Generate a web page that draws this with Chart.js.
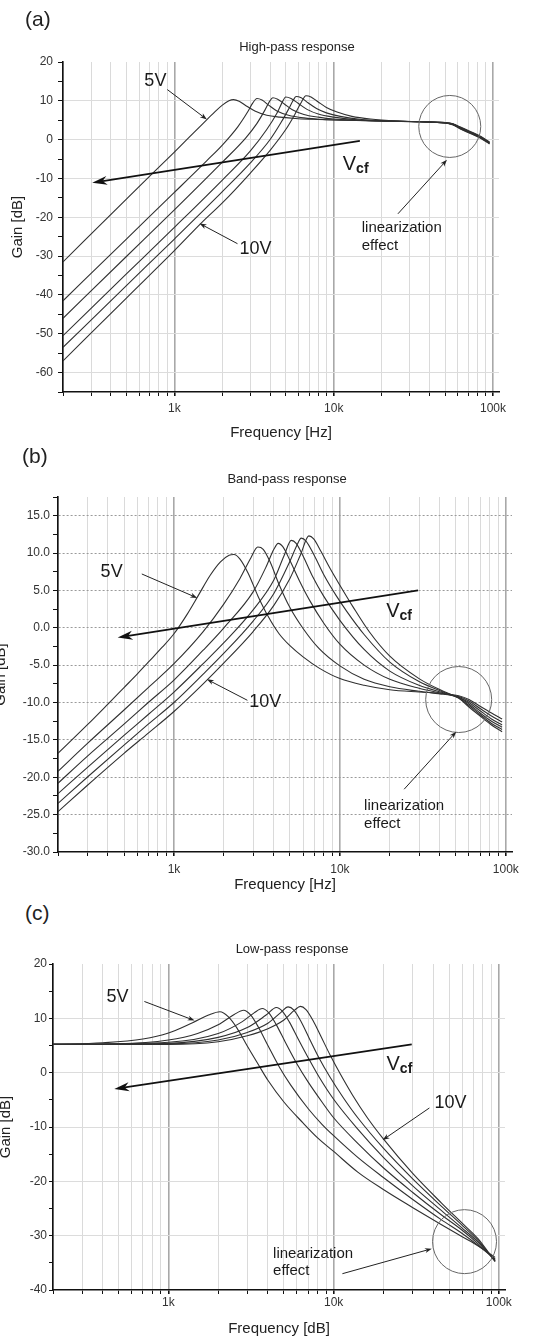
<!DOCTYPE html>
<html>
<head>
<meta charset="utf-8">
<script src="https://cdn.jsdelivr.net/npm/chart.js@4.4.1/dist/chart.umd.min.js"></script>
<style>
  body { margin: 0; background: #fff; }
  #page { position: relative; width: 540px; height: 1340px; overflow: hidden; background: #fff;
          font-family: "Liberation Sans", Arial, sans-serif; color: #222; }
  canvas { position: absolute; }
  .txt { position: absolute; white-space: nowrap; line-height: 1; transform: translate(-50%, -50%); }
  .panel { font-size: 21px; transform: translateY(-50%); }
  .ttl { font-size: 13px; }
</style>
</head>
<body>
<div id="page">
  <canvas id="hp" width="540" height="442" style="left:0;top:0"></canvas>
  <canvas id="bp" width="548" height="434" style="left:-8px;top:460px"></canvas>
  <canvas id="lp" width="543" height="408" style="left:-3px;top:930px"></canvas>

  <div class="txt panel" style="left:25px;top:18px">(a)</div>
  <div class="txt ttl" style="left:297px;top:46px">High-pass response</div>
  <div class="txt panel" style="left:22px;top:455px">(b)</div>
  <div class="txt ttl" style="left:287px;top:478px">Band-pass response</div>
  <div class="txt panel" style="left:25px;top:912px">(c)</div>
  <div class="txt ttl" style="left:292px;top:948px">Low-pass response</div>
</div>
<script>
// frequency axis (Hz)
const freqTicks = [200, 300, 400, 500, 600, 700, 800, 900,
  1000, 2000, 3000, 4000, 5000, 6000, 7000, 8000, 9000,
  10000, 20000, 30000, 40000, 50000, 60000, 70000, 80000, 90000, 100000];
const freqLabels = { 1000: '1k', 10000: '10k', 100000: '100k' };
const seriesNames = ['5V', '6V', '7V', '8V', '9V', '10V'];

// (a) high-pass, [Hz, dB]
const hp5V = [[200,-31.5],[500,-15.3],[1000,-3.2],[1500,4.0],[1800,7.2],[2000,8.9],[2200,10.0],[2350,10.3],[2550,9.9],[2800,8.8],[3200,7.4],[3800,6.3],[4600,5.8],[6000,5.4],[8000,5.2],[12000,5.0],[20000,4.8],[35000,4.6],[50000,4.4],[56000,4.1],[62000,3.3],[72000,2.1],[84000,0.8],[95000,-0.6]];
const hp6V = [[200,-41.5],[500,-25.6],[1000,-13.6],[1600,-5.4],[2000,-1.4],[2500,3.3],[2900,7.3],[3100,9.4],[3300,10.6],[3550,10.2],[3900,8.9],[4400,7.4],[5200,6.3],[6500,5.6],[8500,5.2],[12000,5.0],[20000,4.8],[35000,4.6],[50000,4.4],[56000,4.0],[62000,3.2],[72000,2.0],[84000,0.7],[95000,-0.7]];
const hp7V = [[200,-46],[500,-30.1],[1000,-18.1],[2000,-5.8],[2800,0.4],[3300,4.2],[3700,7.6],[3950,9.8],[4150,10.8],[4450,10.4],[4900,9.2],[5500,7.7],[6500,6.5],[8000,5.8],[10000,5.3],[14000,5.0],[20000,4.8],[35000,4.6],[50000,4.3],[56000,4.0],[62000,3.1],[72000,1.9],[84000,0.6],[95000,-0.8]];
const hp8V = [[200,-50.5],[500,-34.6],[1000,-22.6],[2000,-10.4],[3000,-2.9],[3800,2.6],[4400,6.8],[4750,9.6],[5000,11.0],[5400,10.6],[6000,9.3],[6800,7.8],[8000,6.6],[10000,5.8],[14000,5.1],[20000,4.8],[35000,4.6],[50000,4.3],[56000,3.9],[62000,3.0],[72000,1.8],[84000,0.5],[95000,-0.9]];
const hp9V = [[200,-53.5],[500,-37.6],[1000,-25.6],[2000,-13.4],[3000,-6.0],[4000,0.1],[4700,4.6],[5200,7.8],[5550,10.0],[5800,11.1],[6250,10.8],[6900,9.5],[7800,8.0],[9000,6.9],[11000,6.0],[15000,5.2],[20000,4.9],[35000,4.6],[50000,4.3],[56000,3.9],[62000,2.9],[72000,1.7],[84000,0.4],[95000,-1.0]];
const hp10V = [[200,-57],[500,-40.8],[1000,-28.6],[1500,-21.2],[2000,-16.3],[3000,-8.6],[4000,-2.7],[5000,2.6],[5700,6.5],[6200,9.3],[6700,11.3],[7200,11.0],[8000,9.7],[9000,8.3],[10500,7.1],[13000,6.0],[17000,5.3],[25000,4.8],[35000,4.6],[50000,4.3],[56000,3.8],[62000,2.8],[72000,1.6],[84000,0.3],[95000,-1.1]];

// (b) band-pass
const bp5V = [[200,-16.8],[300,-13.0],[400,-10.2],[500,-8.0],[600,-6.2],[700,-4.6],[850,-2.6],[1000,-0.8],[1200,1.8],[1400,4.3],[1650,7.0],[1900,8.8],[2150,9.7],[2300,9.8],[2500,9.2],[2800,7.3],[3200,4.3],[3700,1.5],[4300,-0.8],[5000,-2.4],[6000,-3.9],[7500,-5.4],[10000,-6.8],[14000,-7.7],[20000,-8.3],[30000,-8.6],[42000,-8.8],[52000,-9.1],[60000,-9.6],[70000,-10.5],[82000,-11.4],[95000,-12.2]];
const bp6V = [[200,-19.2],[300,-15.5],[500,-11.0],[700,-8.0],[1000,-4.8],[1500,-0.5],[2000,3.2],[2500,6.6],[2900,9.3],[3200,10.8],[3450,10.5],[3800,8.8],[4300,5.8],[5000,2.7],[6000,-0.1],[7500,-2.8],[10000,-5.1],[14000,-6.9],[20000,-7.9],[30000,-8.5],[42000,-8.9],[52000,-9.2],[60000,-9.8],[70000,-10.8],[82000,-11.8],[95000,-12.6]];
const bp7V = [[200,-20.8],[300,-17.2],[500,-12.9],[700,-10.0],[1000,-7.0],[1500,-3.0],[2000,0.0],[3000,4.8],[3600,8.2],[4000,10.5],[4250,11.3],[4550,10.8],[5000,9.0],[5700,6.3],[6600,3.6],[8000,0.6],[10000,-2.2],[14000,-5.0],[20000,-6.9],[30000,-8.1],[42000,-8.8],[52000,-9.3],[60000,-10.0],[70000,-11.1],[82000,-12.2],[95000,-13.0]];
const bp8V = [[200,-22.2],[300,-18.7],[500,-14.4],[700,-11.6],[1000,-8.6],[1500,-4.8],[2000,-2.0],[3000,2.4],[4000,6.4],[4600,9.6],[5100,11.7],[5450,11.3],[6000,9.6],[6800,7.0],[8000,4.2],[10000,1.0],[14000,-2.9],[20000,-5.8],[30000,-7.7],[42000,-8.7],[52000,-9.3],[60000,-10.2],[70000,-11.4],[82000,-12.5],[95000,-13.3]];
const bp9V = [[200,-23.5],[300,-20.0],[500,-15.7],[700,-12.9],[1000,-10.0],[1500,-6.2],[2000,-3.4],[3000,0.9],[4000,4.6],[5000,8.9],[5500,11.0],[5850,12.0],[6250,11.6],[7000,9.7],[8000,7.1],[9500,4.3],[11000,2.2],[14000,-0.9],[20000,-4.6],[30000,-7.2],[42000,-8.6],[52000,-9.4],[60000,-10.4],[70000,-11.6],[82000,-12.8],[95000,-13.6]];
const bp10V = [[200,-24.6],[300,-21.1],[500,-16.8],[700,-14.1],[1000,-11.2],[1500,-7.5],[2000,-4.7],[3000,-0.5],[4000,3.0],[5000,6.6],[5800,9.8],[6500,12.3],[6950,11.9],[7700,10.2],[8700,8.0],[10000,5.7],[12000,2.8],[15000,-0.5],[20000,-3.8],[30000,-6.8],[42000,-8.5],[52000,-9.4],[60000,-10.6],[70000,-11.8],[82000,-13.0],[95000,-13.9]];

// (c) low-pass
const lp5V = [[200,5.2],[400,5.5],[700,6.2],[1000,7.3],[1400,9.2],[1750,10.6],[2050,11.2],[2300,10.3],[2600,8.2],[3000,4.9],[3500,1.5],[4000,-1.4],[5000,-5.4],[6500,-9.2],[8000,-12.0],[10000,-14.5],[14000,-18.3],[20000,-21.5],[30000,-24.8],[45000,-28.0],[60000,-30.2],[75000,-31.9],[95000,-34.0]];
const lp6V = [[200,5.2],[500,5.3],[1000,6.0],[1500,7.2],[2000,8.8],[2500,10.7],[2850,11.5],[3150,10.6],[3500,8.4],[4000,5.0],[4700,1.0],[5500,-2.3],[7000,-6.6],[8500,-9.5],[10000,-11.6],[14000,-15.6],[20000,-19.3],[30000,-23.3],[45000,-27.1],[60000,-29.6],[75000,-31.8],[95000,-34.3]];
const lp7V = [[200,5.2],[1000,5.6],[2000,7.2],[2800,9.4],[3300,11.0],[3700,11.8],[4050,11.0],[4500,8.8],[5100,5.6],[6000,1.6],[7000,-1.7],[8500,-5.4],[10000,-8.3],[14000,-13.0],[20000,-17.5],[30000,-22.0],[45000,-26.2],[60000,-29.0],[75000,-31.5],[95000,-34.5]];
const lp8V = [[200,5.2],[1000,5.4],[2000,6.5],[3000,8.3],[3900,10.6],[4500,12.0],[4900,11.3],[5400,9.3],[6100,6.2],[7000,2.8],[8200,-0.9],[10000,-4.9],[14000,-10.4],[20000,-15.6],[30000,-20.8],[45000,-25.4],[60000,-28.6],[75000,-31.2],[95000,-34.6]];
const lp9V = [[200,5.2],[1000,5.3],[2000,6.0],[3000,7.4],[4000,9.1],[4800,11.1],[5300,12.1],[5750,11.5],[6300,9.6],[7100,6.4],[8100,2.9],[9500,-0.8],[11500,-4.7],[14000,-8.3],[20000,-13.9],[30000,-19.5],[45000,-24.6],[60000,-28.1],[75000,-30.9],[95000,-34.7]];
const lp10V = [[200,5.2],[1000,5.2],[2000,5.7],[3000,6.8],[4000,8.1],[5000,9.7],[5800,11.5],[6300,12.2],[6800,11.6],[7500,9.6],[8400,6.6],[9500,3.3],[11000,-0.3],[13000,-4.1],[16000,-8.3],[20000,-12.2],[30000,-18.5],[45000,-24.0],[60000,-27.7],[75000,-30.6],[95000,-34.8]];

// annotations, placed in data coordinates
const hpNotes = {
  labels: [{ text: '5V', at: [760, 15.2] }, { text: '10V', at: [3230, -28.1] }],
  notes: [{ text: 'linearization', at: [15000, -22.7] }, { text: 'effect', at: [15000, -27.3] }],
  arrows: [{ from: [903, 12.9], to: [1600, 5.2] }, { from: [2490, -26.8], to: [1440, -21.6] }, { from: [25300, -19.1], to: [51400, -5.2] }],
  vcf: { from: [14600, -0.3], to: [305, -11.1], label: [11400, -7.7] },
  circle: { at: [53500, 3.4], r: 31 }
};
const bpNotes = {
  labels: [{ text: '5V', at: [421, 7.5] }, { text: '10V', at: [3550, -10] }],
  notes: [{ text: 'linearization', at: [14000, -23.8] }, { text: 'effect', at: [14000, -26.2] }],
  arrows: [{ from: [640, 7.2], to: [1380, 4.0] }, { from: [2770, -9.7], to: [1580, -6.9] }, { from: [24400, -21.6], to: [50300, -13.9] }],
  vcf: { from: [29600, 5.0], to: [458, -1.3], label: [19000, 1.45] },
  circle: { at: [52000, -9.6], r: 33 }
};
const lpNotes = {
  labels: [{ text: '5V', at: [491, 13.9] }, { text: '10V', at: [51000, -5.6] }],
  notes: [{ text: 'linearization', at: [4300, -33.3] }, { text: 'effect', at: [4300, -36.5] }],
  arrows: [{ from: [715, 13.1], to: [1440, 9.6] }, { from: [38000, -6.5], to: [19800, -12.4] }, { from: [11300, -37], to: [39300, -32.4] }],
  vcf: { from: [29700, 5.2], to: [470, -3.0], label: [20900, 0.4] },
  circle: { at: [62000, -31.1], r: 32 }
};

const FONT = '"Liberation Sans", Arial, sans-serif';
const CURVE = '#303030';

const drawArrow = (ctx, a, b, len, wid, lw) => {
  const ang = Math.atan2(b[1] - a[1], b[0] - a[0]);
  ctx.lineWidth = lw;
  ctx.beginPath();
  ctx.moveTo(a[0], a[1]);
  ctx.lineTo(b[0] - Math.cos(ang) * len * 0.6, b[1] - Math.sin(ang) * len * 0.6);
  ctx.stroke();
  ctx.save();
  ctx.translate(b[0], b[1]);
  ctx.rotate(ang);
  ctx.beginPath();
  ctx.moveTo(0, 0);
  ctx.lineTo(-len, -wid / 2);
  ctx.lineTo(-len * 0.7, 0);
  ctx.lineTo(-len, wid / 2);
  ctx.closePath();
  ctx.fill();
  ctx.restore();
};

const notesPlugin = cfg => ({
  id: 'notes',
  afterDatasetsDraw(chart) {
    const { ctx, scales: { x, y } } = chart;
    const px = p => [x.getPixelForValue(p[0]), y.getPixelForValue(p[1])];
    ctx.save();

    // circle around the linearization region
    const c = px(cfg.circle.at);
    ctx.strokeStyle = '#666';
    ctx.lineWidth = 1;
    ctx.beginPath();
    ctx.arc(c[0], c[1], cfg.circle.r, 0, Math.PI * 2);
    ctx.stroke();

    ctx.strokeStyle = '#222';
    ctx.fillStyle = '#222';
    cfg.arrows.forEach(a => drawArrow(ctx, px(a.from), px(a.to), 7, 5, 1));

    ctx.strokeStyle = '#111';
    ctx.fillStyle = '#111';
    drawArrow(ctx, px(cfg.vcf.from), px(cfg.vcf.to), 15, 9, 1.8);

    ctx.fillStyle = '#1a1a1a';
    ctx.textBaseline = 'middle';
    ctx.textAlign = 'center';
    ctx.font = `18px ${FONT}`;
    cfg.labels.forEach(l => { const p = px(l.at); ctx.fillText(l.text, p[0], p[1]); });

    ctx.textAlign = 'left';
    ctx.font = `15px ${FONT}`;
    cfg.notes.forEach(l => { const p = px(l.at); ctx.fillText(l.text, p[0], p[1]); });

    // V with subscript cf
    const v = px(cfg.vcf.label);
    ctx.textBaseline = 'alphabetic';
    ctx.font = `20px ${FONT}`;
    ctx.fillText('V', v[0], v[1]);
    const vw = ctx.measureText('V').width;
    ctx.font = `bold 14px ${FONT}`;
    ctx.fillText('cf', v[0] + vw, v[1] + 3);
    ctx.restore();
  }
});

const buildChart = (id, series, cfg) => new Chart(document.getElementById(id), {
  type: 'line',
  data: {
    datasets: series.map((pts, i) => ({
      label: seriesNames[i],
      data: pts,
      borderColor: CURVE,
      borderWidth: 1.1,
      pointRadius: 0,
      fill: false,
      cubicInterpolationMode: 'monotone'
    }))
  },
  options: {
    responsive: false,
    animation: false,
    events: [],
    layout: { padding: cfg.padding },
    plugins: { legend: { display: false }, tooltip: { enabled: false } },
    scales: {
      x: {
        type: 'logarithmic',
        min: 200,
        max: 109000,
        afterBuildTicks: s => { s.ticks = freqTicks.map(v => ({ value: v })); },
        afterFit: s => { s.height = cfg.xHeight; },
        ticks: {
          autoSkip: false, maxRotation: 0, minRotation: 0, padding: cfg.xPad,
          color: '#333', font: { family: FONT, size: 12 },
          callback: v => freqLabels[v] || ''
        },
        grid: {
          color: c => (c.tick && freqLabels[c.tick.value] ? '#a8a8a8' : '#dadada'),
          lineWidth: c => (c.tick && freqLabels[c.tick.value] ? 1.6 : 1),
          tickColor: '#111', tickLength: 4
        },
        border: { color: '#111', width: 1.6 },
        title: { display: true, text: cfg.xTitle, color: '#222', font: { family: FONT, size: 15 }, padding: { top: 0, bottom: 0 } }
      },
      y: {
        min: cfg.yMin,
        max: cfg.yMax,
        afterFit: s => { s.width = cfg.yWidth; },
        ticks: {
          stepSize: cfg.yStep, autoSkip: false, padding: cfg.yPad,
          color: '#333', font: { family: FONT, size: 12 },
          callback: v => (v % cfg.yMajor === 0 ? cfg.yFmt(v) : '')
        },
        grid: {
          color: c => (c.tick && c.tick.value % cfg.yMajor === 0 && c.tick.value > cfg.yMin && c.tick.value < cfg.yMax ? cfg.hGrid : 'rgba(0,0,0,0)'),
          tickColor: '#111', tickLength: cfg.yTick
        },
        border: { color: '#111', width: 1.6, dash: cfg.hDash },
        title: { display: true, text: 'Gain [dB]', color: '#222', font: { family: FONT, size: 15 }, padding: { top: cfg.yTitlePad, bottom: 0 } }
      }
    }
  },
  plugins: [notesPlugin(cfg.notes)]
});

buildChart('hp', [hp5V, hp6V, hp7V, hp8V, hp9V, hp10V], {
  padding: { top: 62, right: 41, bottom: 0, left: 0 },
  yMin: -65, yMax: 20, yStep: 5, yMajor: 10, yFmt: v => String(v),
  yWidth: 63, yTick: 5, yPad: 5, yTitlePad: 8.4, hGrid: '#dcdcdc', hDash: [],
  xHeight: 50, xPad: 5, xTitle: 'Frequency [Hz]', notes: hpNotes
});
buildChart('bp', [bp5V, bp6V, bp7V, bp8V, bp9V, bp10V], {
  padding: { top: 37, right: 28, bottom: 0, left: 0 },
  yMin: -30, yMax: 17.5, yStep: 2.5, yMajor: 5, yFmt: v => v.toFixed(1),
  yWidth: 66, yTick: 5, yPad: 3, yTitlePad: 0, hGrid: '#9a9a9a', hDash: [2, 2],
  xHeight: 42, xPad: 6, xTitle: 'Frequency [Hz]', notes: bpNotes
});
buildChart('lp', [lp5V, lp6V, lp7V, lp8V, lp9V, lp10V], {
  padding: { top: 34, right: 35, bottom: 0, left: 0 },
  yMin: -40, yMax: 20, yStep: 5, yMajor: 10, yFmt: v => String(v),
  yWidth: 56, yTick: 4, yPad: 2, yTitlePad: 0, hGrid: '#dcdcdc', hDash: [],
  xHeight: 48, xPad: 1, xTitle: 'Frequency [dB]', notes: lpNotes
});
</script>
</body>
</html>
